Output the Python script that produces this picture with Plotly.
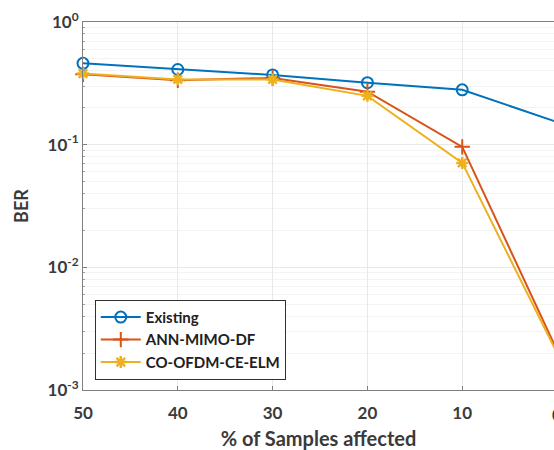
import plotly.graph_objects as go

samples = [50, 40, 30, 20, 10, 0]
existing = [0.46, 0.41, 0.37, 0.32, 0.28, 0.153]
ann_mimo_df = [0.375, 0.335, 0.35, 0.27, 0.096, 0.0021]
co_ofdm_ce_elm = [0.38, 0.34, 0.34, 0.25, 0.071, 0.0020]

x_ticks = [50, 40, 30, 20, 10]
y_tickvals = [1e-3, 1e-2, 1e-1, 1e0]
y_ticktext = ["10<sup>-3</sup>", "10<sup>-2</sup>", "10<sup>-1</sup>", "10<sup>0</sup>"]

FONT = "Lato"
TXT = "#3a3a3a"
fig = go.Figure()
fig.add_trace(go.Scatter(x=samples, y=existing, name="<b>Existing</b>", mode="lines+markers",
                         line=dict(color="#0072BD", width=2),
                         marker=dict(symbol="circle-open", size=11, color="#0072BD", line=dict(width=2)),
                         cliponaxis=False))
fig.add_trace(go.Scatter(x=samples, y=ann_mimo_df, name="<b>ANN-MIMO-DF</b>", mode="lines+markers",
                         line=dict(color="#D95319", width=2),
                         marker=dict(symbol="cross-thin-open", size=11, color="#D95319", line=dict(width=2, color="#D95319")),
                         cliponaxis=False))
fig.add_trace(go.Scatter(x=samples, y=co_ofdm_ce_elm, name="<b>CO-OFDM-CE-ELM</b>", mode="lines+markers",
                         line=dict(color="#EDB120", width=2),
                         marker=dict(symbol="asterisk-open", size=10, color="#EDB120", line=dict(width=2.5, color="#EDB120")),
                         cliponaxis=False))

fig.add_annotation(x=1.0064, y=0, xref="paper", yref="paper", text="<b>0</b>", showarrow=False,
                   xanchor="center", yanchor="top", yshift=-12, font=dict(family=FONT, size=17, color=TXT))

fig.update_layout(
    width=554, height=450,
    margin=dict(l=83, r=0, t=22, b=60),
    paper_bgcolor="white", plot_bgcolor="white",
    font=dict(family=FONT, color=TXT),
    showlegend=True,
    legend=dict(x=0.025, y=0.245, xanchor="left", yanchor="top",
                bgcolor="white", bordercolor="#303030", borderwidth=1,
                font=dict(family=FONT, size=15, color="#202020"),
                itemwidth=40, tracegroupgap=0),
    xaxis=dict(range=[50, 0.32], tickvals=x_ticks, ticktext=[f"<b>{v}</b>" for v in x_ticks],
               tickfont=dict(size=17, color=TXT), automargin=False, ticklabelstandoff=8,
               showline=True, linecolor="#808080", linewidth=1, mirror=True,
               ticks="inside", ticklen=4, tickcolor="#808080",
               showgrid=True, gridcolor="#e8e8e8", zeroline=False,
               title=dict(text="<b>% of Samples affected</b>", font=dict(size=20, color=TXT), standoff=9)),
    yaxis=dict(type="log", range=[-3, 0], tickvals=y_tickvals,
               ticktext=[f"<b>{t}</b>" for t in y_ticktext],
               tickfont=dict(size=17, color=TXT), automargin=False,
               showline=True, linecolor="#808080", linewidth=1,
               ticks="inside", ticklen=4, tickcolor="#808080",
               showgrid=True, gridcolor="#e8e8e8", zeroline=False,
               minor=dict(dtick="D1", showgrid=True, gridcolor="#f3f3f3", ticks="inside", ticklen=2, tickcolor="#a0a0a0"),
               title=dict(text="<b>BER</b>", font=dict(size=18, color=TXT), standoff=14)),
)

fig.write_html("out.html", config={"displayModeBar": False},
               post_script="document.body.style.margin='0';document.body.style.overflow='hidden';")
